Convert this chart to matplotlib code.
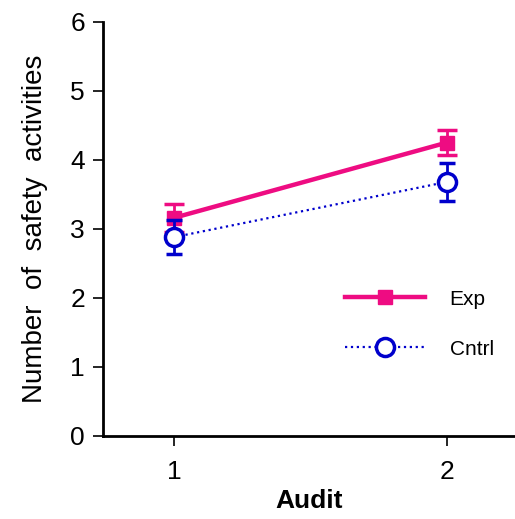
import matplotlib

matplotlib.use("Agg")
import matplotlib.pyplot as plt

plt.rcParams["font.family"] = ["Liberation Sans", "DejaVu Sans"]

audits = [1, 2]
exp_mean = [3.16, 4.25]
exp_sem = [0.20, 0.18]
cntrl_mean = [2.88, 3.68]
cntrl_sem = [0.25, 0.27]

pink = "#ee0c82"
blue = "#0000cc"

fig = plt.figure(figsize=(5.15, 5.19), dpi=100)
ax = fig.add_axes([0.2, 0.16, 0.8, 0.798])

ax.errorbar(audits, exp_mean, yerr=exp_sem, color=pink, lw=3.2, marker="s",
            ms=10, capsize=7, capthick=2.5, elinewidth=2, label="Exp", zorder=3)
ax.errorbar(audits, cntrl_mean, yerr=cntrl_sem, color=blue, lw=1.6, ls=":",
            marker="o", ms=13, mfc="white", mew=2.5, capsize=6, capthick=2,
            elinewidth=2, label="Cntrl", zorder=4)

ax.set_xlim(0.74, 2.25)
ax.set_ylim(0, 6)
ax.set_xticks(audits)
ax.set_yticks(range(7))
ax.tick_params(labelsize=19, width=1.2, length=7)
ax.tick_params(axis="x", pad=10)
ax.tick_params(axis="y", pad=6)
ax.spines["top"].set_visible(False)
ax.spines["right"].set_visible(False)
ax.spines["left"].set_linewidth(2)
ax.spines["bottom"].set_linewidth(2)
ax.set_xlabel("Audit", fontsize=19, fontweight="bold", labelpad=4)
ax.set_ylabel("Number  of  safety  activities", fontsize=20, labelpad=16)

handles, labels = ax.get_legend_handles_labels()
handles = [h[0] for h in handles]
ax.legend(handles, labels, frameon=False, fontsize=15, loc="center left",
          bbox_to_anchor=(0.543, 0.27), handlelength=3.8, handletextpad=1.2,
          labelspacing=1.5)

fig.savefig("out.png", dpi=100)
